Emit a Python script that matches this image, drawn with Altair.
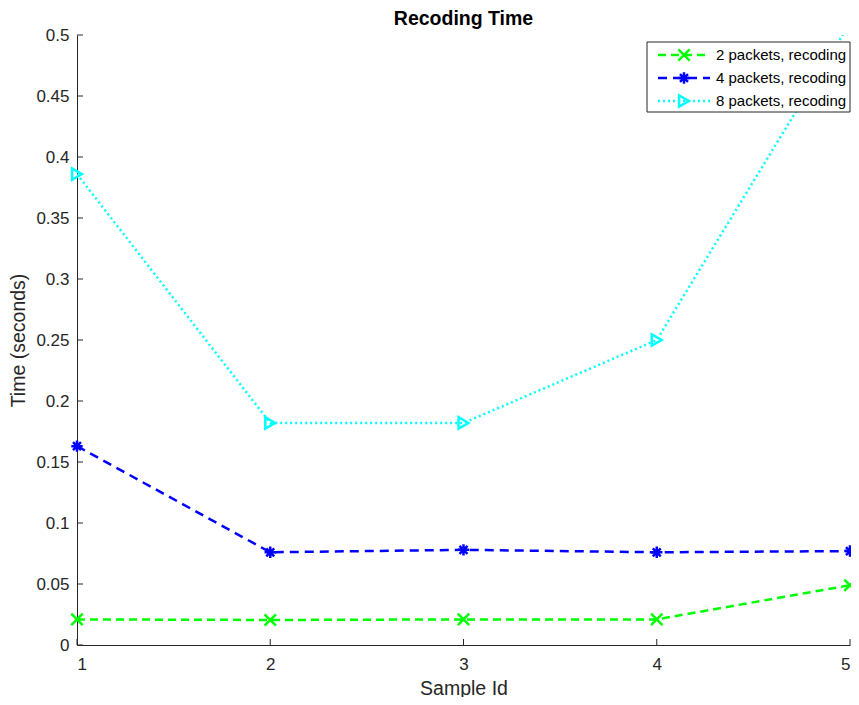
import altair as alt
import pandas as pd

sample_ids = [1, 2, 3, 4, 5]
series_names = ["2 packets, recoding", "4 packets, recoding", "8 packets, recoding"]
time_2 = [0.021, 0.0205, 0.021, 0.021, 0.049]
time_4 = [0.163, 0.076, 0.078, 0.076, 0.077]
time_8 = [0.386, 0.182, 0.182, 0.250, 0.51]
y_ticks = [0, 0.05, 0.1, 0.15, 0.2, 0.25, 0.3, 0.35, 0.4, 0.45, 0.5]

colors = ["#00ff00", "#0000ff", "#00ffff"]
dashes = [[8, 5], [9, 6], [2, 3]]
shapes = [
    "M-1,-1L1,1M-1,1L1,-1",
    "M-1,0L1,0M0,-1L0,1M-0.7,-0.7L0.7,0.7M-0.7,0.7L0.7,-0.7",
    "triangle-right",
]
values = [time_2, time_4, time_8]

W, H = 773, 610
FONT = "Liberation Sans"
AX = "#262626"

xs = alt.Scale(domain=[1, 5], nice=False)
ys = alt.Scale(domain=[0, 0.5], nice=False)

layers = []

base = pd.DataFrame({"x": [1, 5], "y": [0, 0.5]})
axes = alt.Chart(base).mark_point(opacity=0).encode(
    x=alt.X("x:Q", scale=xs, title="Sample Id",
            axis=alt.Axis(values=sample_ids, format="d", ticks=False, labelPadding=11,
                          grid=False, domainColor=AX, labelColor=AX, titleColor=AX,
                          labelFont=FONT, titleFont=FONT, labelFontSize=17, titleFontSize=19.5,
                          titleFontWeight="normal", titlePadding=7)),
    y=alt.Y("y:Q", scale=ys, title="Time (seconds)",
            axis=alt.Axis(values=y_ticks, format=".2~f", ticks=False, labelPadding=8,
                          grid=False, domainColor=AX, labelColor=AX, titleColor=AX,
                          labelFont=FONT, titleFont=FONT, labelFontSize=17, titleFontSize=19.5,
                          titleFontWeight="normal", titlePadding=7)),
)
layers.append(axes)

xt = pd.DataFrame({"x": sample_ids})
layers.append(alt.Chart(xt).mark_rule(color=AX, strokeWidth=1).encode(
    x=alt.X("x:Q", scale=xs), y=alt.value(H), y2=alt.value(H - 6)))
yt = pd.DataFrame({"y": y_ticks})
layers.append(alt.Chart(yt).mark_rule(color=AX, strokeWidth=1).encode(
    y=alt.Y("y:Q", scale=ys), x=alt.value(0), x2=alt.value(6)))

for name, vals, c, d, s in zip(series_names, values, colors, dashes, shapes):
    df = pd.DataFrame({"x": sample_ids, "y": vals, "s": name})
    layers.append(alt.Chart(df).mark_line(color=c, strokeDash=d, strokeWidth=2.5, clip=True).encode(
        x=alt.X("x:Q", scale=xs), y=alt.Y("y:Q", scale=ys)))
    layers.append(alt.Chart(df).transform_filter(alt.datum.y <= 0.5).mark_point(
        color=c, shape=s, size=130, filled=False, strokeWidth=2.5, opacity=1).encode(
        x=alt.X("x:Q", scale=xs), y=alt.Y("y:Q", scale=ys)))

leg_box = pd.DataFrame({"a": [0]})
layers.append(alt.Chart(leg_box).mark_rect(fill="white", stroke=AX, strokeWidth=1).encode(
    x=alt.value(570), x2=alt.value(773), y=alt.value(7), y2=alt.value(77)))
for i, (name, c, d, s) in enumerate(zip(series_names, colors, dashes, shapes)):
    ly = 20 + i * 23
    ld = pd.DataFrame({"name": [name]})
    layers.append(alt.Chart(ld).mark_rule(color=c, strokeDash=d, strokeWidth=2.5).encode(
        x=alt.value(581), x2=alt.value(633), y=alt.value(ly)))
    layers.append(alt.Chart(ld).mark_point(color=c, shape=s, size=130, filled=False,
                                            strokeWidth=2.5, opacity=1).encode(
        x=alt.value(607), y=alt.value(ly)))
    layers.append(alt.Chart(ld).mark_text(align="left", baseline="middle", font=FONT,
                                           fontSize=15, color="black").encode(
        x=alt.value(639), y=alt.value(ly), text="name:N"))

chart = alt.layer(*layers).properties(
    width=W, height=H,
    title=alt.TitleParams("Recoding Time", font=FONT, fontSize=19.5, fontWeight="bold",
                          color="black", anchor="middle", offset=0, dy=3),
    autosize=alt.AutoSizeParams(type="none"),
    padding={"left": 69, "top": 27, "right": 1, "bottom": 52},
).configure_view(stroke=None)

chart.save("out.html", embed_options={"renderer": "svg", "actions": False})
